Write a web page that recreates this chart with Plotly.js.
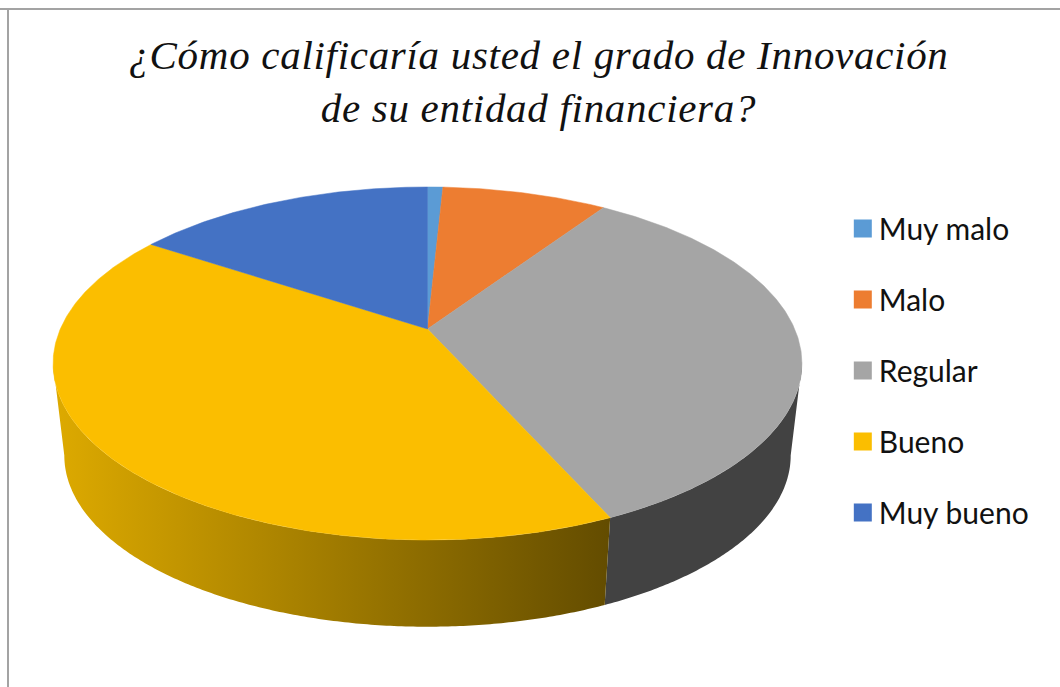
<!DOCTYPE html>
<html lang="es">
<head>
<meta charset="utf-8">
<script src="https://cdn.plot.ly/plotly-3.0.1.min.js"></script>
<style>html,body{margin:0;padding:0;background:#fff}#chart{width:1060px;height:687px}.gtitle{letter-spacing:0.7px}</style>
</head>
<body>
<div id="chart"></div>
<script>
const titleLines = ['¿Cómo calificaría usted el grado de Innovación', 'de su entidad financiera?'];
const categories = ['Muy malo', 'Malo', 'Regular', 'Bueno', 'Muy bueno'];
const shares = [0.8, 8.6, 33.9, 41.0, 15.7];
const topColors = ['#5B9BD5', '#ED7D31', '#A5A5A5', '#FBBE00', '#4472C4'];
const wallColorscales = [null, null, [[0, '#424242'], [1, '#424242']], [[0, '#DCA900'], [1, '#634C00']], null];

// View of the tilted disc: plan coordinates are projected with perspective.
const view = {cx: 427.5, cy: 329, a: 367.2, b: 169.8, k: 0.1955};
const wall = {cy: 422, scale: 0.97};
const total = shares.reduce((s, v) => s + v, 0);
const rad = d => d * Math.PI / 180;

function project(deg, cy, scale) {
  const X = Math.sin(rad(deg)), Y = Math.cos(rad(deg));
  const w = 1 + view.k * Y;
  return [view.cx + scale * view.a * X / w, cy - scale * view.b * Y / w];
}
function arc(from, to, cy, scale) {
  const n = Math.max(2, Math.ceil(Math.abs(to - from) / 0.5));
  const pts = [];
  for (let i = 0; i <= n; i++) pts.push(project(from + (to - from) * i / n, cy, scale));
  return pts;
}

const visibleFrom = 90 + Math.asin(view.k) * 180 / Math.PI;
const visibleTo = 360 - visibleFrom;
const traces = [];
const topTraces = [];
const legendTraces = [];
let acc = 0;
categories.forEach((name, i) => {
  const start = acc / total * 360, end = (acc + shares[i]) / total * 360;
  acc += shares[i];
  // side wall
  const w0 = Math.max(start, visibleFrom), w1 = Math.min(end, visibleTo);
  if (w1 > w0 && wallColorscales[i]) {
    const pts = arc(w0, w1, view.cy, 1).concat(arc(w1, w0, wall.cy, wall.scale));
    traces.push({
      type: 'scatter', mode: 'none', fill: 'toself', hoverinfo: 'skip', showlegend: false,
      x: pts.map(p => p[0]).concat(pts[0][0]), y: pts.map(p => p[1]).concat(pts[0][1]),
      fillgradient: {type: 'horizontal', colorscale: wallColorscales[i], start: 60, stop: 610}
    });
  }
  // top face
  const rim = arc(start, end, view.cy, 1);
  const poly = [[view.cx, view.cy]].concat(rim, [[view.cx, view.cy]]);
  topTraces.push({
    type: 'scatter', mode: 'lines', fill: 'toself', name, showlegend: false,
    x: poly.map(p => p[0]), y: poly.map(p => p[1]),
    line: {color: topColors[i], width: 0.5}, fillcolor: topColors[i],
    text: `${name}: ${shares[i]}%`, hoverinfo: 'text'
  });
  legendTraces.push({
    type: 'scatter', mode: 'markers', name, legendgroup: name, x: [null], y: [null],
    marker: {symbol: 'square', size: 16, color: topColors[i], line: {color: topColors[i], width: 2}},
    hoverinfo: 'skip'
  });
});

const frame = {color: '#A3A3A3', width: 2};
const layout = {
  width: 1060, height: 687, autosize: false,
  margin: {l: 0, r: 0, t: 0, b: 0},
  paper_bgcolor: '#fff', plot_bgcolor: '#fff',
  title: {
    text: titleLines.join('<br>'),
    font: {family: 'Liberation Serif', size: 41, style: 'italic', color: '#111'},
    x: 0.508, xanchor: 'center', y: 0.9, yanchor: 'bottom', automargin: false
  },
  xaxis: {range: [0, 1060], visible: false, fixedrange: true},
  yaxis: {range: [687, 0], visible: false, fixedrange: true},
  showlegend: true,
  legend: {
    x: 0.7951, xanchor: 'left', y: 0.7052, yanchor: 'top',
    font: {family: 'Lato', size: 30, color: '#111'},
    tracegroupgap: 29, itemclick: false, itemdoubleclick: false, bgcolor: 'rgba(0,0,0,0)'
  },
  shapes: [
    {type: 'line', xref: 'paper', yref: 'paper', x0: 0, x1: 1, y0: 1 - 9 / 687, y1: 1 - 9 / 687, line: frame},
    {type: 'line', xref: 'paper', yref: 'paper', x0: 8 / 1060, x1: 8 / 1060, y0: 0, y1: 1 - 9 / 687, line: frame}
  ]
};
Plotly.newPlot('chart', traces.concat(topTraces, legendTraces), layout, {displayModeBar: false}).then(() => {
  document.querySelectorAll('.legendtext').forEach(t => t.setAttribute('x', 36));
});
</script>
</body>
</html>
